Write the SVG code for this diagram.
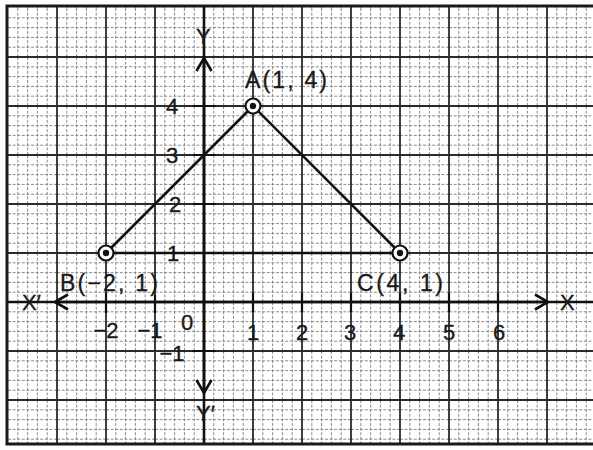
<svg xmlns="http://www.w3.org/2000/svg" width="593" height="450" viewBox="0 0 593 450">
<defs>
<style>
.major{stroke:#2a2a2a;stroke-width:1.8;fill:none}
.axis{stroke:#111;stroke-width:2.6;fill:none}
.tick{stroke:#111;stroke-width:2.2}
.edge{stroke:#111;stroke-width:2.6;fill:none}
.pt{fill:#fff;stroke:#111;stroke-width:2.2}
.dot{fill:#111}
text{font-family:"Liberation Sans",Arial,sans-serif;fill:#1a1a1a;stroke:#1a1a1a;stroke-width:0.35;font-size:22px}
.lbl{font-size:23px}
</style>
<pattern id="minor" x="8" y="8" width="49" height="49" patternUnits="userSpaceOnUse">
<path d="M9.8,0V49M19.6,0V49M29.4,0V49M39.2,0V49M0,9.8H49M0,19.6H49M0,29.4H49M0,39.2H49" stroke="#8a8a8a" stroke-width="1" stroke-dasharray="3 1.6" fill="none"/>
</pattern>
<marker id="arr" viewBox="0 0 16 18" refX="14.5" refY="9" markerWidth="16" markerHeight="18" markerUnits="userSpaceOnUse" orient="auto">
<path d="M1.5,1.5 L14.5,9 L1.5,16.5" fill="none" stroke="#111" stroke-width="2.6"/>
</marker>
</defs>
<rect width="593" height="450" fill="#fff"/>
<g id="grid">
<rect x="7" y="6" width="590" height="438" fill="url(#minor)"/>
<path class="major" d="M57,6V444M106,6V444M155,6V444M253,6V444M302,6V444M351,6V444M400,6V444M449,6V444M498,6V444M547,6V444M7,57H593M7,106H593M7,155H593M7,204H593M7,253H593M7,351H593M7,400H593"/>
<path d="M600,6H7V444H600" fill="none" stroke="#1a1a1a" stroke-width="3"/>
</g>
<g id="axes">
<path class="axis" d="M7,302H593M204,6V444"/>
<path class="axis" d="M204,302H548" marker-end="url(#arr)"/>
<path class="axis" d="M204,302H55" marker-end="url(#arr)"/>
<path class="axis" d="M204,302V58" marker-end="url(#arr)"/>
<path class="axis" d="M204,302V393" marker-end="url(#arr)"/>
<path class="tick" d="M106,293V313M155,295V313M253,293V312M302,293V312M351,293V312M400,293V312M449,293V312M498,293V312M193,106H216M193,155H216M193,204H216M193,253H216M192,351H216"/>
<text x="22" y="310">X′</text>
<text x="560" y="310">X</text>
<text x="196" y="44">Y</text>
<text x="196" y="421">Y′</text>
<g text-anchor="middle">
<text x="106" y="338">−2</text>
<text x="150" y="338">−1</text>
<text x="187" y="330">0</text>
<text x="253" y="340">1</text>
<text x="302" y="340">2</text>
<text x="350" y="340">3</text>
<text x="399" y="340">4</text>
<text x="449" y="340">5</text>
<text x="499" y="340">6</text>
<text x="172" y="114">4</text>
<text x="172" y="163">3</text>
<text x="175" y="212">2</text>
<text x="173" y="261">1</text>
<text x="172" y="361">−1</text>
</g>
</g>
<g id="connectors">
<path class="edge" d="M253,106L106,253"/>
<path class="edge" d="M253,106L400,253"/>
<path class="edge" d="M106,253H400"/>
</g>
<g id="A">
<circle class="pt" cx="253" cy="106" r="7.5"/>
<circle class="dot" cx="253" cy="106" r="3.2"/>
<text class="lbl" x="245" y="88" textLength="82" lengthAdjust="spacing">A(1, 4)</text>
</g>
<g id="B">
<circle class="pt" cx="106" cy="253" r="7.5"/>
<circle class="dot" cx="106" cy="253" r="3.2"/>
<text class="lbl" x="60" y="291" textLength="98" lengthAdjust="spacing">B(−2, 1)</text>
</g>
<g id="C">
<circle class="pt" cx="400" cy="253" r="7.5"/>
<circle class="dot" cx="400" cy="253" r="3.2"/>
<text class="lbl" x="357" y="291" textLength="86" lengthAdjust="spacing">C(4, 1)</text>
</g>
</svg>
